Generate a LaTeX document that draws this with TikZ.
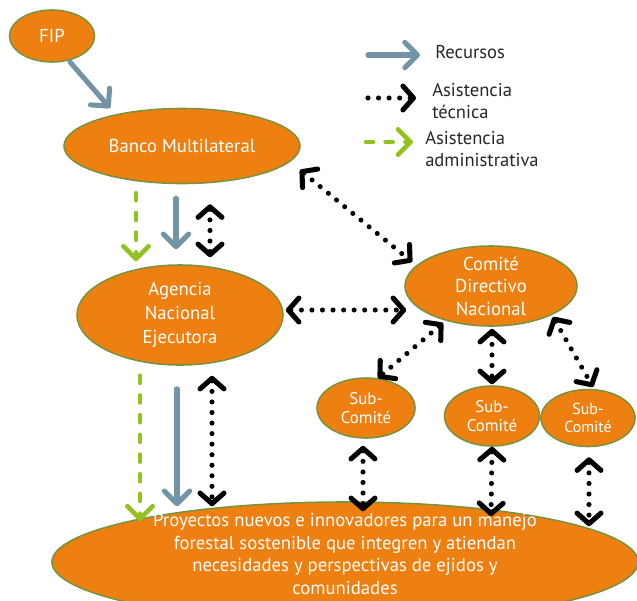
\documentclass[tikz,border=0pt]{standalone}
\usepackage{fontspec}
\setmainfont{PT Sans}
\usetikzlibrary{shapes.geometric,arrows.meta,calc}

\definecolor{naranja}{RGB}{238,128,17}
\definecolor{borde}{RGB}{119,147,60}
\definecolor{azul}{RGB}{115,148,166}
\definecolor{verde}{RGB}{146,194,31}

\begin{document}
\begin{tikzpicture}[x=0.025cm,y=-0.025cm,
  elip/.style={ellipse,fill=naranja,draw=borde,line width=1.1pt,inner sep=-2cm,
    text=white,align=center,font=\fontsize{13.3}{17}\selectfont},
  subelip/.style={elip,font=\fontsize{12}{13}\selectfont},
  leyenda/.style={anchor=west,inner sep=0pt,align=left,text=black!85,
    font=\fontsize{13.2}{15.5}\selectfont},
  recurso/.style={azul,line width=3.6pt,line cap=round,
    -{Straight Barb[length=9pt,width=18pt,round]}},
  admin/.style={verde,line width=3.3pt,line cap=round,dash pattern=on 5pt off 9pt,
    -{Straight Barb[length=9pt,width=18pt,round]}},
  tecnica/.style={black,line width=3.6pt,line cap=round,dash pattern=on 0pt off 7.5pt,
    >={Straight Barb[length=7.5pt,width=17pt,round]}}]
\useasboundingbox (0,0) rectangle (637,600);

\node[elip,minimum width=2.125cm,minimum height=1.3cm] (fip) at (52,36) {FIP};
\node[elip,minimum width=5.9cm,minimum height=1.875cm] (banco) at (182,146) {Banco Multilateral};
\node[elip,minimum width=5.15cm,minimum height=2.5cm] (agencia) at (180,315) {Agencia\\Nacional\\Ejecutora};
\node[elip,minimum width=4.3cm,minimum height=2cm,font=\fontsize{13.3}{16}\selectfont] (comite) at (491,286) {Comité\\Directivo\\Nacional};
\node[subelip,minimum width=2.45cm,minimum height=1.5cm] (sub1) at (366,408) {Sub-\\Comité};
\node[subelip,minimum width=2.375cm,minimum height=1.5cm] (sub2) at (492,416) {Sub-\\Comité};
\node[subelip,minimum width=2.35cm,minimum height=1.425cm,font=\fontsize{11.3}{13}\selectfont] (sub3) at (588,418) {Sub-\\Comité};
\node[elip,minimum width=14.65cm,minimum height=3cm] (proy) at (345,562) {};
\node[align=center,text=white,inner sep=0pt,font=\fontsize{13.3}{16.2}\selectfont] (proytxt) at (345,554)
  {Proyectos nuevos e innovadores para un manejo\\forestal sostenible que integren y atiendan\\necesidades y perspectivas de ejidos y\\comunidades};

\draw[recurso] ($(fip)+(18,26)$) -- ($(banco)+(-72,-38)$);

\draw[admin] ($(banco.south)+(-46,9)$) -- ($(agencia.north)+(-44,-3)$);
\draw[recurso] ($(banco.south)+(-6,14)$) -- ($(agencia.north)+(-4,-15)$);
\draw[tecnica,<->] ($(banco.south)+(28,20)$) -- ($(agencia.north)+(30,-7)$);

\draw[admin] ($(agencia.south)+(-40,10)$) -- ($(proy.north)+(-205,20)$);
\draw[recurso] ($(agencia.south)+(-3,23)$) -- ($(proy.north)+(-168,5)$);
\draw[tecnica,<->] ($(agencia.south)+(32,10)$) -- ($(proy.north)+(-133,5)$);

\draw[tecnica,<->] ($(banco)+(118,24)$) -- ($(comite)+(-79,-24)$);
\draw[tecnica,<->] ($(agencia.east)+(2,-5)$) -- ($(comite.west)+(2,24)$);

\draw[tecnica,<->] ($(comite)+(-48,37)$) -- ($(sub1)+(12,-30)$);
\draw[tecnica,<->] ($(comite.south)+(1,2)$) -- ($(sub2.north)+(0,-1)$);
\draw[tecnica,<->] ($(comite)+(62,31)$) -- ($(sub3)+(5,-31)$);

\draw[tecnica,<->] ($(sub1.south)+(-3,7)$) -- ($(proy.north)+(18,10)$);
\draw[tecnica,<->] ($(sub2.south)+(0,0)$) -- ($(proy.north)+(146,15)$);
\draw[tecnica,<->] ($(sub3.south)+(1,10)$) -- ($(proy.north)+(244,25)$);

\coordinate (r1) at (368,55);
\coordinate (r2) at (420,55);
\coordinate (t1) at (368,98);
\coordinate (t2) at (416,98);
\coordinate (a1) at (366,142);
\coordinate (a2) at (413,142);
\draw[recurso] (r1) -- (r2);
\draw[tecnica,->] (t1) -- (t2);
\draw[admin] (a1) -- (a2);
\node[leyenda] (recursos) at (435,52) {Recursos};
\node[leyenda] (tec) at (432,101) {Asistencia\\técnica};
\node[leyenda] (adm) at (425,149) {Asistencia\\administrativa};
\end{tikzpicture}
\end{document}
